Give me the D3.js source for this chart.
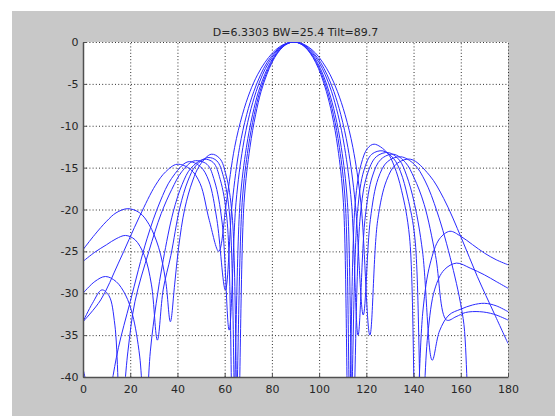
<!DOCTYPE html>
<html><head><meta charset="utf-8">
<script src="https://cdn.jsdelivr.net/npm/d3@7"></script>
<style>
html,body{margin:0;padding:0;background:#fff;}
svg{display:block;}
text{font-family:"DejaVu Sans",sans-serif;}
</style></head>
<body>
<svg id="chart" width="555" height="416"></svg>
<script>
const titleText = "D=6.3303 BW=25.4 Tilt=89.7";
const xTicks = [0,20,40,60,80,100,120,140,160,180];
const yTicks = [-40,-35,-30,-25,-20,-15,-10,-5,0];

// [angle (deg), level (dB)]
const pattern1 = [[0,-33.4],[7.5,-30.8],[15,-26.4],[24,-20.8],[30.7,-17.1],[35,-15.5],[39.8,-14.6],[45.5,-15.2],[49.6,-16.9],[53.5,-21.3],[57.5,-25],[60.7,-19.2],[64.2,-12.6],[67.5,-8.69],[70.7,-5.94],[73.9,-3.92],[77.1,-2.42],[80.2,-1.33],[83.2,-0.58],[86.3,-0.14],[89.3,0],[92.4,-0.14],[95.4,-0.58],[98.5,-1.33],[101.5,-2.42],[104.7,-3.92],[107.8,-5.94],[111.0,-8.69],[114.3,-12.6],[117.7,-19.2],[121.5,-35],[124.8,-21.3],[128.6,-16.5],[132.6,-14.6],[138.8,-14.0],[146.7,-15.9],[152.8,-18.7],[160.4,-23.5],[167,-28],[174.3,-32.5],[180,-36]];
const pattern2 = [[0,-39],[3,-42.5],[8,-47],[12,-41],[15,-36.5],[20,-31],[27.1,-23.5],[32.6,-19.1],[37.5,-16.3],[44.5,-14.3],[49.8,-14.9],[53.3,-16.6],[56.7,-21.2],[60.3,-29.6],[63.2,-19.2],[66.3,-12.6],[69.3,-8.69],[72.3,-5.94],[75.2,-3.92],[78.0,-2.42],[80.9,-1.33],[83.7,-0.58],[86.5,-0.14],[89.3,0],[92.1,-0.14],[94.9,-0.58],[97.7,-1.33],[100.6,-2.42],[103.4,-3.92],[106.3,-5.94],[109.2,-8.69],[112.2,-12.6],[115.3,-19.2],[118.7,-32.6],[121.7,-21.2],[125.0,-16.3],[128.9,-14.3],[134.5,-13.7],[140.3,-14.6],[144.9,-16.6],[150.0,-20.3],[156.2,-26.5],[161,-33],[166,-46],[172,-45],[180,-43]];
const pattern3 = [[0,-33.4],[4,-31.2],[8,-29.6],[11,-30.3],[13.5,-33.8],[16,-45],[19,-37],[22,-31],[27.9,-25],[33.1,-20.5],[37.6,-17.6],[41.8,-15.5],[47,-14.2],[52.5,-14.6],[55.7,-16.6],[58.9,-21.5],[61.9,-34.4],[64.8,-19.2],[67.7,-12.6],[70.5,-8.69],[73.3,-5.94],[76.0,-3.92],[78.7,-2.42],[81.4,-1.33],[84.0,-0.58],[86.7,-0.14],[89.3,0],[91.9,-0.14],[94.6,-0.58],[97.2,-1.33],[99.9,-2.42],[102.6,-3.92],[105.3,-5.94],[108.0,-8.69],[110.8,-12.6],[113.7,-19.2],[116.5,-35],[119.5,-21.0],[122.6,-16.0],[126.2,-14.0],[131.5,-13.4],[136.6,-14.4],[140.2,-16.2],[144.5,-19.4],[149.3,-25.5],[154,-33.2],[158,-32.8],[162,-32.3],[168,-32.2],[174,-32.5],[180,-33.2]];
const pattern4 = [[0,-30],[5,-28.6],[9.5,-28],[14,-28.6],[18,-30.2],[21,-32.6],[24,-37.5],[26.3,-46],[28.5,-37],[31,-31.2],[34,-26],[38.2,-20.3],[42,-17],[45.6,-15.1],[51.2,-14],[55.2,-14.4],[58.1,-16.4],[61,-21.2],[63.5,-46],[66.5,-19.2],[69.2,-12.6],[71.8,-8.69],[74.3,-5.94],[76.9,-3.92],[79.4,-2.42],[81.9,-1.33],[84.4,-0.58],[86.9,-0.14],[89.3,0],[91.8,-0.14],[94.2,-0.58],[96.7,-1.33],[99.2,-2.42],[101.7,-3.92],[104.2,-5.94],[106.8,-8.69],[109.4,-12.6],[112.0,-19.2],[114.3,-46],[117.4,-20.9],[120.3,-15.9],[124.2,-13.7],[129.3,-13.2],[134,-14.1],[137,-15.9],[140.3,-19.2],[143.8,-25],[147.9,-38],[151,-34.5],[155,-32.6],[160,-31.9],[165,-31.4],[170,-31.2],[175,-31.5],[180,-32.2]];
const pattern5 = [[0,-26.2],[5,-25.1],[10,-24.2],[14,-23.5],[18,-23.1],[22,-23.6],[26,-25.5],[29,-29],[31.5,-35.6],[34,-29.5],[37.2,-25.5],[41,-19.8],[44.4,-16.6],[47.7,-14.8],[52.9,-13.8],[56.7,-14.2],[59.5,-16.1],[62.2,-21],[64.6,-46],[67.4,-19.2],[70.0,-12.6],[72.5,-8.69],[74.9,-5.94],[77.4,-3.92],[79.8,-2.42],[82.2,-1.33],[84.6,-0.58],[87.0,-0.14],[89.3,0],[91.7,-0.14],[94.1,-0.58],[96.4,-1.33],[98.8,-2.42],[101.2,-3.92],[103.6,-5.94],[106.1,-8.69],[108.6,-12.6],[111.1,-19.2],[113.3,-46],[116.2,-20.5],[119.0,-15.3],[122.3,-13.4],[127,-13.0],[131.5,-13.9],[134.5,-15.5],[137.5,-18.5],[140.6,-23.5],[143.5,-46],[146,-35],[149,-29.5],[153,-27.2],[158.2,-26.4],[164,-27],[170,-27.8],[175,-28.6],[180,-29.4]];
const pattern6 = [[0,-24.8],[5,-23],[10,-21.4],[14,-20.4],[19,-19.9],[24,-20.4],[28,-21.8],[32,-24.5],[35,-28.5],[37,-33.4],[38.8,-29],[40.5,-24.5],[43.1,-19.9],[46.4,-16.6],[49.5,-14.7],[54.3,-13.4],[57.9,-13.9],[60.6,-15.9],[63.2,-20.8],[65.6,-47],[68.2,-19.2],[70.7,-12.6],[73.1,-8.69],[75.4,-5.94],[77.8,-3.92],[80.1,-2.42],[82.4,-1.33],[84.7,-0.58],[87.0,-0.14],[89.3,0],[91.6,-0.14],[93.9,-0.58],[96.2,-1.33],[98.5,-2.42],[100.8,-3.92],[103.1,-5.94],[105.5,-8.69],[107.9,-12.6],[110.3,-19.2],[112.5,-47],[115.3,-19.2],[117.8,-14.6],[120.5,-12.7],[123.3,-12.2],[128.8,-13.2],[131.8,-14.8],[134.9,-17.7],[138.3,-23.3],[141,-47],[144,-32],[147,-26.5],[151,-23.5],[155.4,-22.6],[160,-23.2],[165,-24.2],[170,-25.2],[175,-26],[180,-26.6]];

const patterns = [pattern1, pattern2, pattern3, pattern4, pattern5, pattern6];

const svg = d3.select("#chart");
const L = 83, R = 508, T = 42, B = 377;

// figure background
svg.append("rect").attr("x",12).attr("y",11).attr("width",555-12).attr("height",416-11).attr("fill","#c8c8c8");
// axes background
svg.append("rect").attr("x",L).attr("y",T).attr("width",R-L).attr("height",B-T).attr("fill","#ffffff");

const x = d3.scaleLinear().domain([0,180]).range([L,R]);
const y = d3.scaleLinear().domain([-40,0]).range([B,T]);

// grid
const xg = svg.append("g").attr("transform",`translate(0,${B})`)
  .call(d3.axisBottom(x).tickValues(xTicks.slice(1)).tickSize(-(B-T)).tickFormat(""));
const yg = svg.append("g").attr("transform",`translate(${L},0)`)
  .call(d3.axisLeft(y).tickValues(yTicks.slice(1)).tickSize(-(R-L)).tickFormat(""));
[xg,yg].forEach(g=>{
  g.select(".domain").remove();
  g.selectAll("line").attr("stroke","#303030").attr("stroke-width",1).attr("stroke-dasharray","1,2.2");
});

// curves
svg.append("clipPath").attr("id","clip").append("rect").attr("x",L).attr("y",T).attr("width",R-L).attr("height",B-T);
const line = d3.line().x(d=>x(d[0])).y(d=>y(d[1])).curve(d3.curveCatmullRom.alpha(0.5));
svg.append("g").attr("clip-path","url(#clip)").selectAll("path").data(patterns).join("path")
  .attr("d",line).attr("fill","none").attr("stroke","#2a2aff").attr("stroke-width",1);

// axes
const fmt = d => String(d);
const xa = svg.append("g").attr("transform",`translate(0,${B})`)
  .call(d3.axisBottom(x).tickValues(xTicks).tickFormat(fmt).tickSize(-4).tickSizeOuter(0).tickPadding(8));
const ya = svg.append("g").attr("transform",`translate(${L},0)`)
  .call(d3.axisLeft(y).tickValues(yTicks).tickFormat(fmt).tickSize(-4).tickSizeOuter(0).tickPadding(4.5));
[xa,ya].forEach(g=>{
  g.select(".domain").attr("stroke","#505050").attr("stroke-width",1.5);
  g.selectAll(".tick line").attr("stroke","#505050");
  g.selectAll("text").attr("fill","#262626").style("font-size","11px").style("font-family","'DejaVu Sans',sans-serif");
});

// title
svg.append("text").attr("x",(L+R)/2).attr("y",36).attr("text-anchor","middle")
  .attr("fill","#262626").style("font-size","11px").text(titleText);
</script>
</body></html>
